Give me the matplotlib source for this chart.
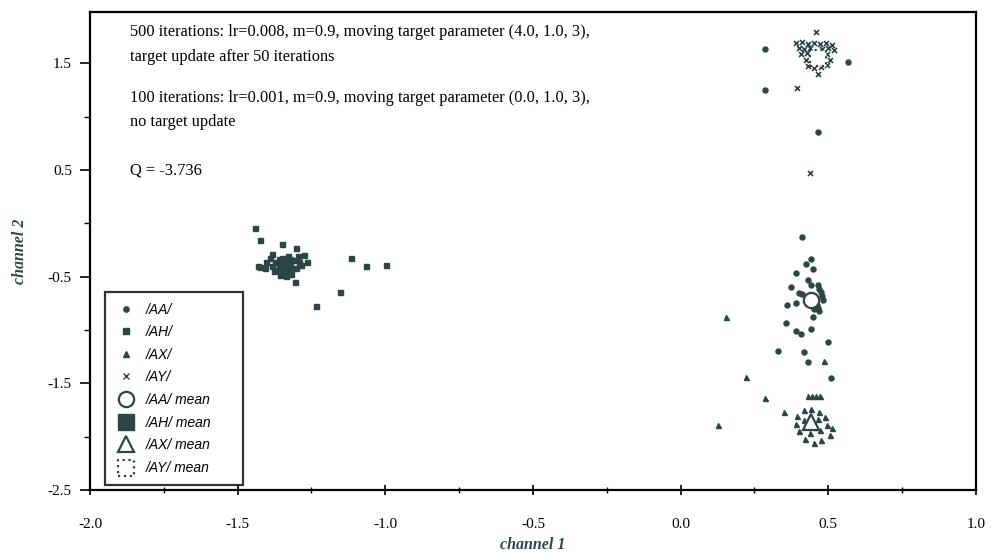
import matplotlib
matplotlib.use("Agg")
import matplotlib.pyplot as plt
from matplotlib.lines import Line2D

# ---------------------------------------
# DATA
# ---------------------------------------
aa_x = [0.412, 0.443, 0.426, 0.449, 0.392, 0.432, 0.375, 0.466, 0.399, 0.476,
        0.483, 0.392, 0.361, 0.466, 0.449, 0.358, 0.392, 0.409, 0.443, 0.500,
        0.328, 0.416, 0.432, 0.510, 0.470, 0.480, 0.460, 0.410, 0.440, 0.450,
        0.470, 0.287, 0.287, 0.568, 0.466]
aa_y = [-0.126, -0.332, -0.379, -0.425, -0.463, -0.528, -0.593, -0.575, -0.650, -0.640,
        -0.715, -0.743, -0.762, -0.790, -0.874, -0.939, -1.014, -1.042, -0.995, -1.117,
        -1.201, -1.210, -1.304, -1.453, -0.620, -0.680, -0.770, -0.660, -0.580, -0.800,
        -0.820, 1.631, 1.248, 1.509, 0.855]

ah_x = [-1.443, -1.426, -1.351, -1.301, -1.385, -1.274, -1.264, -1.426, -1.307, -1.115,
        -1.064, -0.997, -1.155, -1.236, -1.392, -1.372, -1.351, -1.331, -1.311, -1.291,
        -1.385, -1.365, -1.345, -1.324, -1.304, -1.358, -1.338, -1.318, -1.405, -1.378,
        -1.331, -1.351, -1.297, -1.284, -1.432, -1.409]
ah_y = [-0.042, -0.154, -0.192, -0.229, -0.285, -0.294, -0.360, -0.407, -0.547, -0.322,
        -0.397, -0.388, -0.640, -0.780, -0.322, -0.360, -0.322, -0.303, -0.341, -0.360,
        -0.397, -0.435, -0.416, -0.397, -0.416, -0.481, -0.491, -0.472, -0.360, -0.444,
        -0.360, -0.379, -0.304, -0.388, -0.397, -0.416]

ax_x = [0.155, 0.220, 0.284, 0.351, 0.125, 0.486, 0.432, 0.446, 0.459, 0.473,
        0.416, 0.443, 0.470, 0.395, 0.490, 0.389, 0.497, 0.402, 0.439, 0.473,
        0.507, 0.422, 0.476, 0.453, 0.514, 0.419, 0.466, 0.456]
ax_y = [-0.883, -1.444, -1.640, -1.771, -1.893, -1.294, -1.621, -1.621, -1.621, -1.621,
        -1.752, -1.743, -1.771, -1.808, -1.818, -1.883, -1.893, -1.949, -1.967, -1.939,
        -1.986, -2.023, -2.033, -2.061, -1.921, -1.846, -1.836, -1.911]

ay_x = [0.459, 0.392, 0.412, 0.432, 0.453, 0.473, 0.493, 0.514, 0.399, 0.419,
        0.439, 0.480, 0.500, 0.520, 0.409, 0.429, 0.497, 0.426, 0.507, 0.432,
        0.453, 0.476, 0.497, 0.466, 0.395, 0.439]
ay_y = [1.790, 1.687, 1.696, 1.678, 1.687, 1.678, 1.687, 1.668, 1.640, 1.631,
        1.640, 1.631, 1.640, 1.621, 1.584, 1.593, 1.584, 1.528, 1.528, 1.472,
        1.453, 1.463, 1.481, 1.397, 1.266, 0.472]

# class means
mean_x = {"AA": 0.44, "AH": -1.34, "AX": 0.443, "AY": 0.466}
mean_y = {"AA": -0.72, "AH": -0.39, "AX": -1.86, "AY": 1.55}

notes = [
    "500 iterations: lr=0.008, m=0.9, moving target parameter (4.0, 1.0, 3),\n"
    "target update after 50 iterations",
    "100 iterations: lr=0.001, m=0.9, moving target parameter (0.0, 1.0, 3),\n"
    "no target update",
    "Q = -3.736",
]

x_ticks = [-2.0, -1.5, -1.0, -0.5, 0.0, 0.5, 1.0]
y_ticks = [-2.5, -1.5, -0.5, 0.5, 1.5]

# ---------------------------------------
# PLOT
# ---------------------------------------
ink = "#2c4646"
serif = "Liberation Serif"

fig = plt.figure(figsize=(9.91, 5.56), dpi=100)
ax = fig.add_axes([90 / 991, 66 / 556, 886 / 991, 478 / 556])

ms = 3.6
ax.plot(aa_x, aa_y, "o", color=ink, ms=ms, ls="none")
ax.plot(ah_x, ah_y, "s", color=ink, ms=ms, ls="none")
ax.plot(ax_x, ax_y, "^", color=ink, ms=ms, ls="none")
ax.plot(ay_x, ay_y, "x", color=ink, ms=ms, mew=1.2, ls="none")

ax.plot(mean_x["AA"], mean_y["AA"], "o", ms=11, mfc="white", mec=ink, mew=1.6)
ax.plot(mean_x["AH"], mean_y["AH"], "s", ms=11, mfc=ink, mec=ink)
ax.plot(mean_x["AX"], mean_y["AX"], "^", ms=11, mfc="white", mec=ink, mew=1.6)
# dotted-outline square for the /AY/ mean
ax.plot(mean_x["AY"], mean_y["AY"], "s", ms=11.5, mfc="white", mec="none", zorder=4)
ay_mean = ax.scatter([mean_x["AY"]], [mean_y["AY"]], marker="s", s=132,
                     facecolors="none", edgecolors=ink, linewidths=1.6,
                     linestyles=":", zorder=5)

ax.set_xlim(-2.0, 1.0)
ax.set_ylim(-2.5, 1.98)
ax.set_xticks(x_ticks)
ax.set_yticks(y_ticks)
ax.set_xticks([-1.75, -1.25, -0.75, -0.25, 0.25, 0.75], minor=True)
ax.set_yticks([-2.0, -1.0, 0.0, 1.0], minor=True)
ax.set_xticklabels([f"{t:.1f}" for t in x_ticks], family=serif, fontsize=11)
ax.set_yticklabels([f"{t:.1f}" for t in y_ticks], family=serif, fontsize=11)
ax.tick_params(which="major", length=7, width=1.2, color="black")
ax.tick_params(which="minor", length=4, width=1.0, color="black")
ax.tick_params(axis="x", which="both", direction="inout", pad=17)
ax.tick_params(axis="y", which="both", direction="out", pad=6)
for s in ax.spines.values():
    s.set_linewidth(1.6)

ax.set_xlabel("channel 1", family=serif, style="italic", weight="bold",
              fontsize=11.5, color=ink, labelpad=4)
ax.set_ylabel("channel 2", family=serif, style="italic", weight="bold",
              fontsize=11.5, color=ink, labelpad=14)

# notes in the upper left
txt = dict(transform=ax.transAxes, family=serif, fontsize=11.8, va="center",
           linespacing=1.72)
ax.text(0.045, 0.932, notes[0], **txt)
ax.text(0.045, 0.795, notes[1], **txt)
ax.text(0.045, 0.669, notes[2], **txt)

# legend
handles = [
    Line2D([], [], marker="o", ls="none", color=ink, ms=3.8),
    Line2D([], [], marker="s", ls="none", color=ink, ms=3.8),
    Line2D([], [], marker="^", ls="none", color=ink, ms=3.8),
    Line2D([], [], marker="x", ls="none", color=ink, ms=3.8, mew=1.0),
    Line2D([], [], marker="o", ls="none", mfc="white", mec=ink, ms=11, mew=1.6),
    Line2D([], [], marker="s", ls="none", mfc=ink, mec=ink, ms=11),
    Line2D([], [], marker="^", ls="none", mfc="white", mec=ink, ms=11, mew=1.6),
    ay_mean,
]
labels = ["/AA/", "/AH/", "/AX/", "/AY/",
          "/AA/ mean", "/AH/ mean", "/AX/ mean", "/AY/ mean"]
leg = ax.legend(handles, labels, loc="lower left",
                bbox_to_anchor=(0.017, 0.010, 0.156, 0.40), mode="expand",
                borderaxespad=0, fancybox=False, labelspacing=0.62,
                handletextpad=0.7, handlelength=1.5, borderpad=0.75,
                prop={"family": "Liberation Sans", "style": "italic", "size": 10})
leg.get_frame().set_edgecolor("black")
leg.get_frame().set_linewidth(1.6)

fig.savefig("out.png", dpi=100)
